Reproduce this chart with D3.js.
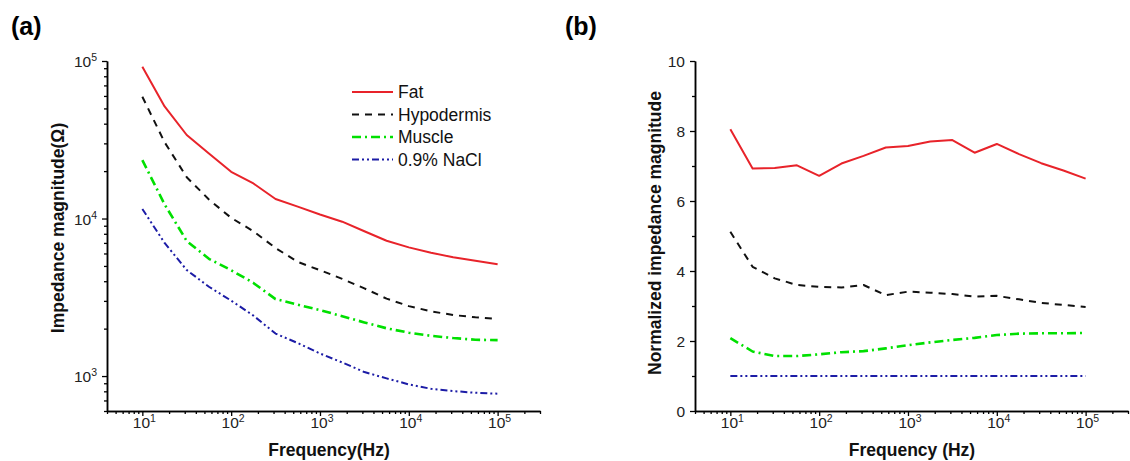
<!DOCTYPE html>
<html>
<head>
<meta charset="utf-8">
<script src="https://cdn.jsdelivr.net/npm/d3@7"></script>
<style>
  html, body { margin: 0; padding: 0; background: #fff; }
  svg { display: block; }
  text { font-family: "Liberation Sans", Arial, sans-serif; }
</style>
</head>
<body>
<svg id="chart" width="1130" height="461"></svg>
<script>
// ---------- data ----------
const frequencies = [10, 17.8, 31.6, 56.2, 100, 178, 316, 562, 1000, 1780, 3160, 5620, 10000, 17800, 31600, 56200, 100000];

// panel (a): impedance magnitude (Ohm)
const fatZ    = [92000, 51500, 33900, 25900, 19800, 16700, 13300, 11900, 10600, 9550, 8300, 7230, 6560, 6070, 5670, 5390, 5120];
const hypoZ   = [59300, 30500, 18300, 13200, 10100, 8300, 6500, 5300, 4700, 4140, 3600, 3100, 2780, 2575, 2440, 2360, 2300];
const muscleZ = [23500, 12300, 7200, 5550, 4700, 3900, 3080, 2840, 2620, 2400, 2190, 2010, 1885, 1800, 1743, 1700, 1690];
const naclZ   = [11500, 7000, 4710, 3690, 3010, 2420, 1860, 1620, 1390, 1220, 1060, 967, 885, 830, 803, 783, 773];

// panel (b): normalized impedance magnitude
const fatN    = [8.05, 6.93, 6.94, 7.02, 6.72, 7.07, 7.29, 7.53, 7.57, 7.70, 7.74, 7.38, 7.63, 7.34, 7.08, 6.87, 6.64];
const hypoN   = [5.12, 4.12, 3.79, 3.60, 3.55, 3.53, 3.60, 3.31, 3.41, 3.38, 3.34, 3.27, 3.29, 3.19, 3.09, 3.03, 2.97];
const muscleN = [2.08, 1.70, 1.57, 1.57, 1.62, 1.68, 1.71, 1.79, 1.88, 1.96, 2.03, 2.09, 2.17, 2.21, 2.22, 2.22, 2.23];
const naclN   = [1.0, 1.0, 1.0, 1.0, 1.0, 1.0, 1.0, 1.0, 1.0, 1.0, 1.0, 1.0, 1.0, 1.0, 1.0, 1.0, 1.0];

const seriesNames = ["Fat", "Hypodermis", "Muscle", "0.9% NaCl"];

// tick labels
const xMajorTicks = [10, 100, 1000, 10000, 100000];
const xMajorExp   = ["1", "2", "3", "4", "5"];
const yAMajorTicks = [1000, 10000, 100000];
const yAMajorExp   = ["3", "4", "5"];
const yBMajorTicks = [0, 2, 4, 6, 8, 10];
const yBMinorTicks = [1, 3, 5, 7, 9];

// ---------- styles ----------
const styles = [
  { color: "#e8232a", dash: null,            width: 2.0 },
  { color: "#111111", dash: "7,6",           width: 2.0 },
  { color: "#00e000", dash: "9,4,2,4",       width: 2.6 },
  { color: "#1c1ca6", dash: "7,3,2,3,2,3",   width: 2.0 }
];

const svg = d3.select("#chart");

// log minor ticks (2..9 x 10^k) within a domain
function logMinor(lo, hi) {
  const out = [];
  for (let e = Math.floor(Math.log10(lo)); e <= Math.ceil(Math.log10(hi)); e++) {
    for (let m = 2; m <= 9; m++) {
      const v = m * Math.pow(10, e);
      if (v >= lo * 0.999 && v <= hi * 1.001) out.push(v);
    }
  }
  return out;
}

function styleAxis(g) {
  g.select(".domain").attr("stroke", "#000").attr("stroke-width", 1.5);
  g.selectAll(".tick line").attr("stroke", "#000").attr("stroke-width", 1.3);
  g.selectAll(".tick text").remove();
}

function powLabel(g, x, y, anchor, exp) {
  const t = g.append("text")
    .attr("x", x).attr("y", y)
    .attr("text-anchor", anchor)
    .attr("font-size", 15.5)
    .attr("fill", "#222");
  t.append("tspan").text("10");
  t.append("tspan").attr("font-size", 10.5).attr("dy", -6).text(exp);
}

// ---------- panel setup ----------
const xDomain = [4, 3e5];
const plotTop = 61, plotBottom = 411;

const xA = d3.scaleLog().domain(xDomain).range([107, 540]);
const yA = d3.scaleLog().domain([600, 1e5]).range([plotBottom, plotTop]);
const xB = d3.scaleLog().domain(xDomain).range([695, 1128]);
const yB = d3.scaleLinear().domain([0, 10]).range([plotBottom, plotTop]);

function drawXAxis(x) {
  const gMin = svg.append("g").attr("transform", `translate(0,${plotBottom})`)
    .call(d3.axisBottom(x).tickValues(logMinor(xDomain[0], xDomain[1])).tickSize(3).tickSizeOuter(0));
  styleAxis(gMin);
  const gMaj = svg.append("g").attr("transform", `translate(0,${plotBottom})`)
    .call(d3.axisBottom(x).tickValues(xMajorTicks).tickSize(5).tickSizeOuter(0));
  styleAxis(gMaj);
  const lab = svg.append("g");
  xMajorTicks.forEach((v, i) => powLabel(lab, x(v) + 2, 428, "middle", xMajorExp[i]));
}

// ---------- panel (a) ----------
drawXAxis(xA);
{
  const gMin = svg.append("g").attr("transform", `translate(107,0)`)
    .call(d3.axisLeft(yA).tickValues(logMinor(600, 1e5).filter(v => v !== 1000 && v !== 10000)).tickSize(3).tickSizeOuter(0));
  styleAxis(gMin);
  const gMaj = svg.append("g").attr("transform", `translate(107,0)`)
    .call(d3.axisLeft(yA).tickValues(yAMajorTicks).tickSize(5).tickSizeOuter(0));
  styleAxis(gMaj);
  const lab = svg.append("g");
  yAMajorTicks.forEach((v, i) => powLabel(lab, 97, yA(v) + 6, "end", yAMajorExp[i]));
}

const lineA = d3.line().x((d, i) => xA(frequencies[i])).y(d => yA(d));
[fatZ, hypoZ, muscleZ, naclZ].forEach((s, i) => {
  svg.append("path").datum(s)
    .attr("d", lineA)
    .attr("fill", "none")
    .attr("stroke", styles[i].color)
    .attr("stroke-width", styles[i].width)
    .attr("stroke-dasharray", styles[i].dash)
    .attr("stroke-linejoin", "round");
});

// legend
const legend = svg.append("g");
seriesNames.forEach((name, i) => {
  const y = 92 + i * 22.5;
  legend.append("line")
    .attr("x1", 352).attr("x2", 393).attr("y1", y).attr("y2", y)
    .attr("stroke", styles[i].color)
    .attr("stroke-width", styles[i].width)
    .attr("stroke-dasharray", styles[i].dash);
  legend.append("text")
    .attr("x", 398).attr("y", y).attr("dy", "0.36em")
    .attr("font-size", 17.5).attr("fill", "#111")
    .text(name);
});

svg.append("text")
  .attr("transform", `translate(58,228) rotate(-90)`)
  .attr("dy", "0.35em")
  .attr("text-anchor", "middle")
  .attr("font-size", 17.5).attr("font-weight", "bold").attr("fill", "#111")
  .text("Impedance magnitude(Ω)");
svg.append("text")
  .attr("x", 329).attr("y", 456)
  .attr("text-anchor", "middle")
  .attr("font-size", 17.5).attr("font-weight", "bold").attr("fill", "#111")
  .text("Frequency(Hz)");
svg.append("text")
  .attr("x", 11).attr("y", 35)
  .attr("font-family", "'Open Sans', 'Noto Sans', sans-serif")
  .attr("font-size", 25).attr("font-weight", "bold").attr("fill", "#000")
  .text("(a)");

// ---------- panel (b) ----------
drawXAxis(xB);
{
  const gMin = svg.append("g").attr("transform", `translate(695,0)`)
    .call(d3.axisLeft(yB).tickValues(yBMinorTicks).tickSize(3).tickSizeOuter(0));
  styleAxis(gMin);
  const gMaj = svg.append("g").attr("transform", `translate(695,0)`)
    .call(d3.axisLeft(yB).tickValues(yBMajorTicks).tickSize(5).tickSizeOuter(0));
  styleAxis(gMaj);
  yBMajorTicks.forEach(v => {
    svg.append("text")
      .attr("x", 685).attr("y", yB(v)).attr("dy", "0.36em")
      .attr("text-anchor", "end")
      .attr("font-size", 15.5).attr("fill", "#222")
      .text(v);
  });
}

const lineB = d3.line().x((d, i) => xB(frequencies[i])).y(d => yB(d));
[fatN, hypoN, muscleN, naclN].forEach((s, i) => {
  svg.append("path").datum(s)
    .attr("d", lineB)
    .attr("fill", "none")
    .attr("stroke", styles[i].color)
    .attr("stroke-width", styles[i].width)
    .attr("stroke-dasharray", styles[i].dash)
    .attr("stroke-linejoin", "round");
});

svg.append("text")
  .attr("transform", `translate(655,233) rotate(-90)`)
  .attr("dy", "0.35em")
  .attr("text-anchor", "middle")
  .attr("font-size", 17.5).attr("font-weight", "bold").attr("fill", "#111")
  .text("Normalized impedance magnitude");
svg.append("text")
  .attr("x", 912).attr("y", 456)
  .attr("text-anchor", "middle")
  .attr("font-size", 17.5).attr("font-weight", "bold").attr("fill", "#111")
  .text("Frequency (Hz)");
svg.append("text")
  .attr("x", 565).attr("y", 35)
  .attr("font-family", "'Open Sans', 'Noto Sans', sans-serif")
  .attr("font-size", 25).attr("font-weight", "bold").attr("fill", "#000")
  .text("(b)");
</script>
</body>
</html>
